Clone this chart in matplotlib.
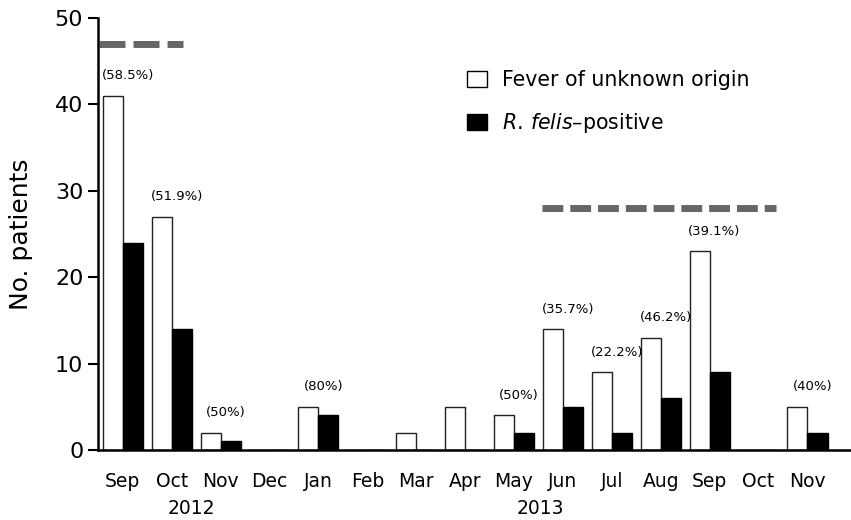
import numpy as np
import matplotlib
matplotlib.use("Agg")
import matplotlib.pyplot as plt
from matplotlib.patches import Patch

# datos
meses = ["Sep", "Oct", "Nov", "Dec", "Jan", "Feb", "Mar", "Apr",
         "May", "Jun", "Jul", "Aug", "Sep", "Oct", "Nov"]
fiebre = [41, 27, 2, 0, 5, 0, 2, 5, 4, 14, 9, 13, 23, 0, 5]
felis = [24, 14, 1, 0, 4, 0, 0, 0, 2, 5, 2, 6, 9, 0, 2]
porcentajes = {0: "(58.5%)", 1: "(51.9%)", 2: "(50%)", 4: "(80%)", 8: "(50%)",
               9: "(35.7%)", 10: "(22.2%)", 11: "(46.2%)", 12: "(39.1%)", 14: "(40%)"}
anios = [("2012", 1.41), ("2013", 8.53)]
# periodos marcados con linea discontinua: (inicio, fin, altura)
periodos = [(-0.49, 1.23, 47), (8.57, 13.35, 28)]

plt.rcParams['lines.scale_dashes'] = False

fig = plt.figure(figsize=(8.51, 5.2), dpi=100)
ax = fig.add_axes([0.115, 0.1346, 0.885, 0.8308])

x = np.arange(len(meses))
w = 0.41
ax.bar(x - w / 2, fiebre, w, color="white", edgecolor="#222222", linewidth=1)
ax.bar(x + w / 2, felis, w, color="black", edgecolor="black", linewidth=1)

for i, txt in porcentajes.items():
    ax.text(x[i] + 0.1, fiebre[i] + 2.3, txt, ha="center", va="center", fontsize=9.5)

dashes = [(18.7, 5.8), (15, 5)]
for (a, b, yv), d in zip(periodos, dashes):
    ax.plot([a, b], [yv, yv], color="#666666", linewidth=5, dashes=d,
            solid_capstyle="butt", dash_capstyle="butt")

ax.set_xlim(-0.51, 14.89)
ax.set_ylim(0, 50)
ax.set_yticks([0, 10, 20, 30, 40, 50])
ax.tick_params(axis="y", labelsize=16, length=7, width=1.5, direction="out")
ax.set_xticks(x)
ax.set_xticklabels(meses, fontsize=13.5)
ax.tick_params(axis="x", length=0, pad=16)

for lado in ["top", "right"]:
    ax.spines[lado].set_visible(False)
ax.spines["left"].set_linewidth(1.8)
ax.spines["bottom"].set_linewidth(1.8)

trans = ax.get_xaxis_transform()
for nombre, pos in anios:
    ax.text(pos, -0.136, nombre, transform=trans, ha="center", va="center", fontsize=13.5)

ax.set_ylabel("No. patients", fontsize=18)
ax.yaxis.set_label_coords(-0.086, 0.5)

manijas = [Patch(facecolor="white", edgecolor="black", linewidth=1),
           Patch(facecolor="black", edgecolor="black")]
ax.legend(manijas, ["Fever of unknown origin", "$\\mathit{R.\\,felis}$\u2013positive"],
          loc="upper left", bbox_to_anchor=(0.49, 0.88), frameon=False,
          borderaxespad=0, borderpad=0, fontsize=14.8, handlelength=1.0,
          handleheight=0.8, handletextpad=0.72, labelspacing=1.05)

fig.savefig("out.png", dpi=100)
